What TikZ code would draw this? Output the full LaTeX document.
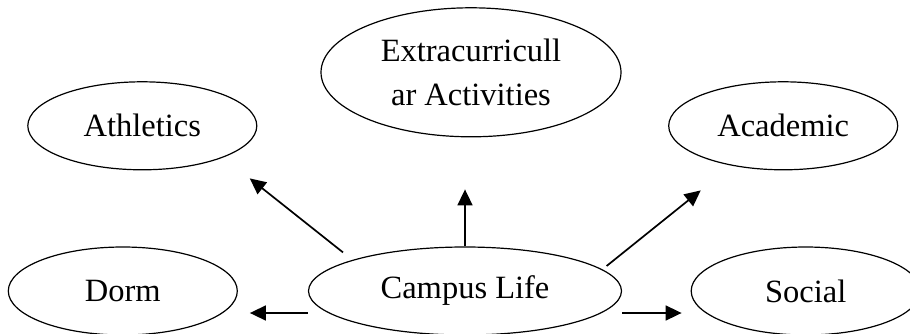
\documentclass[tikz,border=0pt]{standalone}
\usepackage{fontspec}
\setmainfont{Liberation Serif}
\usetikzlibrary{shapes.geometric,positioning,arrows.meta}

\begin{document}
\begin{tikzpicture}[x=1pt,y=1pt,>={Triangle[length=16pt,width=15pt]},
		bubble/.style={draw,ellipse,line width=1.2pt,inner sep=0pt,minimum width=229pt,minimum height=88pt,font=\fontsize{32.5}{44}\selectfont,align=center},
		link/.style={->,line width=1.7pt}]
			\useasboundingbox (0,0) rectangle (910,333);
			\node[bubble,minimum width=313pt] (life) at (465,42) {Campus Life};
			\node[bubble] (dorm) [left=70pt of life] {Dorm};
			\node[bubble] (social) [right=68.5pt of life] {Social};
			\node[bubble,minimum width=300pt,minimum height=129pt,xshift=6pt,yshift=-1pt] (extra) [above=110pt of life] {Extracurricull\\ar Activities};
			\node[bubble,xshift=19.5pt] (ath) [above=76pt of dorm] {Athletics};
			\node[bubble,xshift=-22.5pt] (acad) [above=76pt of social] {Academic};

			\draw[link] ([shift={(-122pt,-6pt)}]life.north) -- ([shift={(107.5pt,-8pt)}]ath.south);
			\draw[link,shorten >=52pt] (life.north) -- (life.north |- extra.south);
			\draw[link] ([shift={(-15.5pt,25pt)}]life.east) -- ([shift={(-82.5pt,-20pt)}]acad.south);
			\draw[link,shorten >=12pt] ([yshift=-22pt]life.west) -- ([yshift=-22pt]dorm.east);
			\draw[link,shorten >=9pt] ([yshift=-22pt]life.east) -- ([yshift=-22pt]social.west);
\end{tikzpicture}
\end{document}
